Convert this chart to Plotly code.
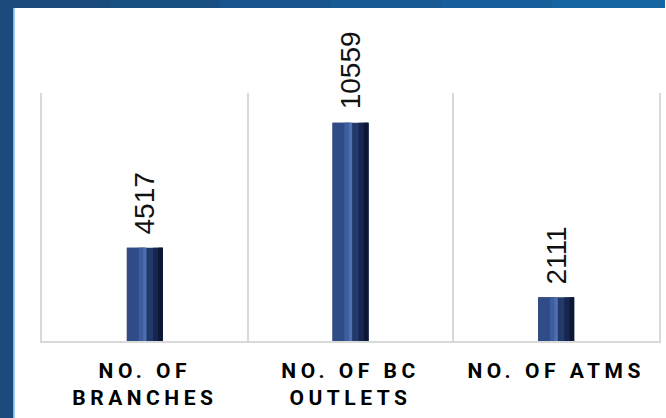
import plotly.graph_objects as go

categories = ["NO. OF<br>BRANCHES", "NO. OF BC<br>OUTLETS", "NO. OF ATMS"]
values = [4517, 10559, 2111]

W, H = 666, 418
M_L, M_R, M_T, M_B = 42, 5, 93, 77
PW, PH = W - M_L - M_R, H - M_T - M_B


def px_x(p):
    return (p - M_L) / PW


def px_y(p):
    return (H - M_B - p) / PH


BAR_W = 0.175
# layered bars to fake the bevelled gradient look
layers = [
    ("#22396a", -BAR_W / 2, BAR_W),
    ("#2f4c86", -BAR_W / 2, 0.085),
    ("#3d5d9e", -0.03, 0.03),
    ("#152650", 0.04, 0.0475),
    ("#0d1733", 0.065, 0.0225),
    ("#4e70b2", -0.008, 0.016),
]

fig = go.Figure()
for color, offset, width in layers:
    fig.add_trace(
        go.Bar(
            x=categories,
            y=values,
            marker=dict(color=color, line=dict(width=0)),
            offset=offset,
            width=width,
            hoverinfo="skip",
            showlegend=False,
        )
    )

annotations = [
    dict(
        x=c,
        y=v,
        text=str(v),
        textangle=-90,
        showarrow=False,
        yanchor="bottom",
        yshift=11,
        font=dict(family="Liberation Sans, Arial", size=28, color="#111111"),
    )
    for c, v in zip(categories, values)
]

# blue frame on the left and top
shapes = []
top_cols = ["#1b4a7c", "#1a4f84", "#18558c", "#175a94", "#165f9b", "#1565a3"]
seg = W / len(top_cols)
for i, col in enumerate(top_cols):
    shapes.append(
        dict(type="rect", xref="paper", yref="paper",
             x0=px_x(i * seg - 1), x1=px_x((i + 1) * seg + 1), y0=px_y(8), y1=px_y(-2),
             fillcolor=col, line=dict(width=0), layer="above")
    )
shapes += [
    dict(type="rect", xref="paper", yref="paper",
         x0=px_x(-2), x1=px_x(13), y0=px_y(H + 2), y1=px_y(-2),
         fillcolor="#1b4a7c", line=dict(width=0), layer="above"),
    dict(type="rect", xref="paper", yref="paper",
         x0=px_x(13), x1=px_x(14.5), y0=px_y(H + 2), y1=px_y(8),
         fillcolor="#5fb8ea", line=dict(width=0), layer="above"),
]

fig.update_layout(
    width=W,
    height=H,
    margin=dict(l=M_L, r=M_R, t=M_T, b=M_B),
    paper_bgcolor="white",
    plot_bgcolor="white",
    barmode="overlay",
    annotations=annotations,
    shapes=shapes,
    xaxis=dict(
        tickson="boundaries",
        showgrid=True,
        gridcolor="#d9d9d9",
        gridwidth=1.5,
        showline=True,
        linecolor="#d9d9d9",
        linewidth=1.5,
        ticks="",
        tickfont=dict(family="Roboto", size=21, color="#000000", weight="bold"),
        ticklabelstandoff=10,
    ),
    yaxis=dict(
        range=[0, 12000],
        showticklabels=False,
        showgrid=False,
        zeroline=False,
        showline=True,
        mirror=True,
        linecolor="#d9d9d9",
        linewidth=1.5,
    ),
)

fig.write_html(
    "out.html",
    config={"displayModeBar": False},
    post_script=(
        "document.body.style.margin='0';"
        "document.querySelectorAll('.xtick text').forEach(function(t){"
        "t.style.letterSpacing='4.5px';});"
    ),
)
